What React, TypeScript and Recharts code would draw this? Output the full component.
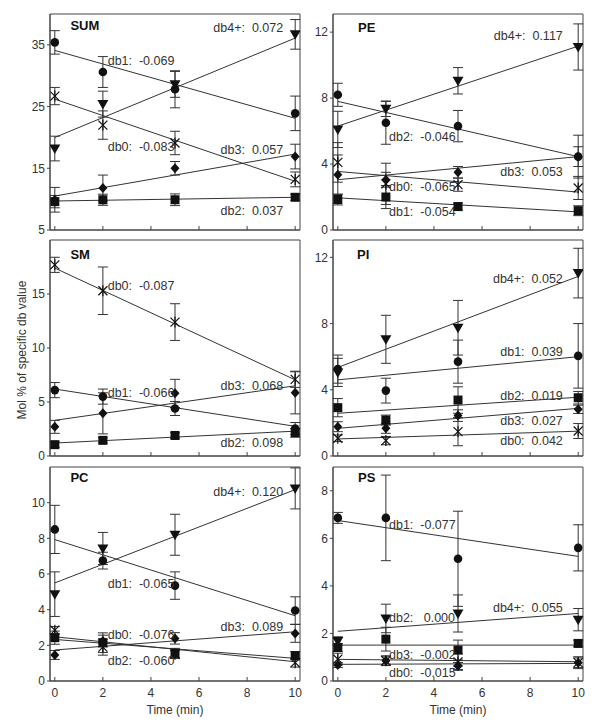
import { ScatterChart, Scatter, XAxis, YAxis, ErrorBar, ReferenceLine, ReferenceArea, ReferenceDot } from 'recharts';

const times = [0, 2, 5, 10];
const xTicks = [0, 2, 4, 6, 8, 10];

// SUM
const sumDb0 = [26.7, 22.0, 19.1, 13.2];
const sumDb0Sd = [1.4, 2.3, 1.9, 1.2];
const sumDb1 = [35.4, 30.6, 27.8, 23.9];
const sumDb1Sd = [1.9, 2.5, 3.0, 2.8];
const sumDb2 = [9.6, 9.9, 9.9, 10.3];
const sumDb2Sd = [1.0, 0.9, 0.95, 0.5];
const sumDb3 = [9.9, 11.8, 15.0, 16.9];
const sumDb3Sd = [2.0, 2.1, 1.1, 2.0];
const sumDb4 = [18.2, 25.4, 28.6, 36.7];
const sumDb4Sd = [2.0, 2.1, 2.1, 2.4];
const sumFits = [[26.2, 12.9], [34.1, 23.1], [9.7, 10.3], [10.5, 17.3], [20.0, 36.1]];
const sumNotes = ['db4+:  0.072', 'db1:  -0.069', 'db0:  -0.083', 'db3:  0.057', 'db2:  0.037'];

// PE
const peDb0 = [4.1, 2.8, 2.75, 2.55];
const peDb0Sd = [1.2, 1.25, 0.4, 0.7];
const peDb1 = [8.2, 6.5, 6.3, 4.45];
const peDb1Sd = [0.7, 1.3, 0.95, 1.3];
const peDb2 = [1.85, 2.0, 1.42, 1.17];
const peDb2Sd = [0.33, 0.7, 0.22, 0.3];
const peDb3 = [3.35, 3.05, 3.5, 4.45];
const peDb3Sd = [1.2, 0.45, 0.35, 0.6];
const peDb4 = [6.1, 7.35, 9.05, 11.1];
const peDb4Sd = [1.1, 0.47, 0.8, 1.4];
const peFits = [[3.55, 2.3], [7.8, 4.45], [1.95, 1.1], [3.05, 4.45], [6.3, 11.15]];
const peNotes = ['db4+:  0.117', 'db2:  -0.046', 'db3:  0.053', 'db0:  -0.065', 'db1:  -0.054'];

// SM
const smDb0 = [17.7, 15.3, 12.4, 7.1];
const smDb0Sd = [0.7, 2.2, 1.7, 0.75];
const smDb1 = [6.1, 5.5, 4.4, 2.55];
const smDb1Sd = [0.7, 0.7, 0.65, 0.55];
const smDb2 = [1.05, 1.45, 1.9, 2.15];
const smDb2Sd = [0.25, 0.25, 0.25, 0.4];
const smDb3 = [2.7, 3.95, 5.8, 5.85];
const smDb3Sd = [0.6, 1.9, 1.3, 1.95];
const smFits = [[17.4, 7.05], [6.2, 2.75], [1.2, 2.3], [3.3, 6.5]];
const smNotes = ['db0:  -0.087', 'db1:  -0.066', 'db3:  0.068', 'db2:  0.098'];

// PI
const piDb0 = [1.07, 0.93, 1.47, 1.51];
const piDb0Sd = [0.2, 0.25, 0.85, 0.45];
const piDb1 = [5.25, 3.95, 5.7, 6.05];
const piDb1Sd = [0.85, 0.75, 1.3, 1.95];
const piDb2 = [2.92, 2.17, 3.38, 3.52];
const piDb2Sd = [0.55, 0.3, 0.8, 0.38];
const piDb3 = [1.77, 1.67, 2.44, 2.82];
const piDb3Sd = [0.3, 0.3, 0.35, 0.25];
const piDb4 = [5.05, 7.05, 7.75, 11.05];
const piDb4Sd = [0.85, 1.45, 1.65, 1.5];
const piFits = [[1.03, 1.5], [4.6, 6.0], [2.58, 3.55], [1.67, 2.88], [5.35, 10.85]];
const piNotes = ['db4+:  0.052', 'db1:  0.039', 'db2:  0.019', 'db3:  0.027', 'db0:  0.042'];

// PC
const pcDb0 = [2.85, 1.9, 1.5, 1.03];
const pcDb0Sd = [0.2, 0.45, 0.2, 0.25];
const pcDb1 = [8.5, 6.75, 5.35, 3.95];
const pcDb1Sd = [1.35, 0.47, 0.77, 0.77];
const pcDb2 = [2.43, 2.15, 1.55, 1.42];
const pcDb2Sd = [0.37, 0.55, 0.28, 0.23];
const pcDb3 = [1.46, 2.24, 2.39, 2.67];
const pcDb3Sd = [0.25, 0.33, 0.32, 0.5];
const pcDb4 = [4.87, 7.43, 8.2, 10.8];
const pcDb4Sd = [1.25, 0.9, 1.15, 1.15];
const pcFits = [[2.48, 1.08], [7.93, 3.66], [2.33, 1.27], [1.74, 2.76], [5.5, 10.73]];
const pcNotes = ['db4+:  0.120', 'db1:  -0.065', 'db3:  0.089', 'db0:  -0.076', 'db2:  -0.060'];

// PS
const psDb0 = [0.92, 0.85, 0.8, 0.77];
const psDb0Sd = [0.25, 0.2, 0.35, 0.25];
const psDb1 = [6.86, 6.86, 5.14, 5.6];
const psDb1Sd = [0.23, 1.8, 2.0, 0.97];
const psDb2 = [1.41, 1.76, 1.3, 1.58];
const psDb2Sd = [0.17, 0.5, 0.42, 0.14];
const psDb3 = [0.67, 0.85, 0.63, 0.77];
const psDb3Sd = [0.1, 0.2, 0.15, 0.2];
const psDb4 = [1.68, 2.63, 2.84, 2.58];
const psDb4Sd = [0.18, 0.6, 0.78, 0.47];
const psFits = [[0.7, 0.74], [6.75, 5.24], [1.51, 1.51], [0.91, 0.81], [2.09, 2.84]];
const psNotes = ['db1:  -0.077', 'db2:   0.000', 'db4+:  0.055', 'db3:  -0.002', 'db0:  -0.015'];

const INK = '#111';
const LINE = '#333';
const FONT = 'Arial, "Liberation Sans", sans-serif';

const mk = (vals: number[], sd: number[]) => times.map((t, i) => ({ x: t, y: vals[i], e: sd[i] }));

const Star = (p: any) => (
  <g stroke={INK} strokeWidth={1.2}>
    <line x1={p.cx - 4.5} y1={p.cy - 4.5} x2={p.cx + 4.5} y2={p.cy + 4.5} />
    <line x1={p.cx - 4.5} y1={p.cy + 4.5} x2={p.cx + 4.5} y2={p.cy - 4.5} />
    <line x1={p.cx} y1={p.cy - 5.5} x2={p.cx} y2={p.cy + 5.5} />
  </g>
);
const Dot = (p: any) => <circle cx={p.cx} cy={p.cy} r={4.3} fill={INK} />;
const Sq = (p: any) => <rect x={p.cx - 4.5} y={p.cy - 4.5} width={9} height={9} fill={INK} />;
const Dia = (p: any) => (
  <polygon points={`${p.cx},${p.cy - 5} ${p.cx + 4.5},${p.cy} ${p.cx},${p.cy + 5} ${p.cx - 4.5},${p.cy}`} fill={INK} />
);
const Tri = (p: any) => (
  <polygon points={`${p.cx - 5.5},${p.cy - 4} ${p.cx + 5.5},${p.cy - 4} ${p.cx},${p.cy + 5.5}`} fill={INK} />
);
const shapes = [Star, Dot, Sq, Dia, Tri];

// label layout: [x, y, anchor] in data units
const panels = [
  {
    title: 'SUM', left: 0, top: 12, width: 302, height: 224, yw: 50, xh: 6, domain: [5, 40], ticks: [5, 15, 25, 35],
    titleAt: [0.65, 38.1], showX: false,
    series: [mk(sumDb0, sumDb0Sd), mk(sumDb1, sumDb1Sd), mk(sumDb2, sumDb2Sd), mk(sumDb3, sumDb3Sd), mk(sumDb4, sumDb4Sd)],
    fits: sumFits, notes: sumNotes,
    noteAt: [[9.5, 37.8, 'end'], [2.2, 32.4, 'start'], [2.2, 18.4, 'start'], [9.5, 17.9, 'end'], [9.5, 8.1, 'end']],
  },
  {
    title: 'PE', left: 303, top: 12, width: 282, height: 224, yw: 30, xh: 6, domain: [0, 13.1], ticks: [0, 4, 8, 12],
    titleAt: [0.84, 12.3], showX: false,
    series: [mk(peDb0, peDb0Sd), mk(peDb1, peDb1Sd), mk(peDb2, peDb2Sd), mk(peDb3, peDb3Sd), mk(peDb4, peDb4Sd)],
    fits: peFits, notes: peNotes,
    noteAt: [[9.36, 11.76, 'end'], [2.13, 5.64, 'start'], [9.36, 3.52, 'end'], [2.13, 2.6, 'start'], [2.13, 1.09, 'start']],
  },
  {
    title: 'SM', left: 0, top: 238, width: 302, height: 224, yw: 50, xh: 6, domain: [0, 20], ticks: [0, 5, 10, 15],
    titleAt: [0.65, 18.7], showX: false,
    series: [mk(smDb0, smDb0Sd), mk(smDb1, smDb1Sd), mk(smDb2, smDb2Sd), mk(smDb3, smDb3Sd)],
    fits: smFits, notes: smNotes,
    noteAt: [[2.2, 15.7, 'start'], [2.2, 5.8, 'start'], [9.5, 6.45, 'end'], [9.5, 1.18, 'end']],
  },
  {
    title: 'PI', left: 303, top: 238, width: 282, height: 224, yw: 30, xh: 6, domain: [0, 13.05], ticks: [0, 4, 8, 12],
    titleAt: [0.8, 12.2], showX: false,
    series: [mk(piDb0, piDb0Sd), mk(piDb1, piDb1Sd), mk(piDb2, piDb2Sd), mk(piDb3, piDb3Sd), mk(piDb4, piDb4Sd)],
    fits: piFits, notes: piNotes,
    noteAt: [[9.36, 10.7, 'end'], [9.36, 6.28, 'end'], [9.36, 3.63, 'end'], [9.36, 2.11, 'end'], [9.36, 0.91, 'end']],
  },
  {
    title: 'PC', left: 0, top: 465, width: 302, height: 256, yw: 50, xh: 40, domain: [0, 12], ticks: [0, 2, 4, 6, 8, 10],
    titleAt: [0.65, 11.4], showX: true,
    series: [mk(pcDb0, pcDb0Sd), mk(pcDb1, pcDb1Sd), mk(pcDb2, pcDb2Sd), mk(pcDb3, pcDb3Sd), mk(pcDb4, pcDb4Sd)],
    fits: pcFits, notes: pcNotes,
    noteAt: [[9.5, 10.6, 'end'], [2.2, 5.42, 'start'], [9.5, 3.02, 'end'], [2.2, 2.57, 'start'], [2.2, 1.12, 'start']],
  },
  {
    title: 'PS', left: 303, top: 465, width: 282, height: 256, yw: 30, xh: 40, domain: [0, 9], ticks: [0, 2, 4, 6, 8],
    titleAt: [0.84, 8.54], showX: true,
    series: [mk(psDb0, psDb0Sd), mk(psDb1, psDb1Sd), mk(psDb2, psDb2Sd), mk(psDb3, psDb3Sd), mk(psDb4, psDb4Sd)],
    fits: psFits, notes: psNotes,
    noteAt: [[2.13, 6.57, 'start'], [2.13, 2.64, 'start'], [9.36, 3.05, 'end'], [2.13, 1.09, 'start'], [2.13, 0.33, 'start']],
  },
];

const textShape = (text: string, anchor: string, bold = false) => (p: any) => (
  <text
    x={p.cx}
    y={p.cy}
    textAnchor={anchor}
    dominantBaseline="central"
    fontFamily={FONT}
    fontSize={bold ? 13 : 12.5}
    fontWeight={bold ? 700 : 400}
    fill={bold ? INK : '#333'}
    style={{ whiteSpace: 'pre' }}
  >
    {text}
  </text>
);

function Panel({ p }: { p: any }) {
  const tickStyle = { fontSize: 12, fontFamily: FONT, fill: '#333' };
  return (
    <div style={{ position: 'absolute', left: p.left, top: p.top }}>
      <ScatterChart width={p.width} height={p.height} margin={{ top: 2, right: 2, left: 0, bottom: 0 }}>
        <XAxis
          type="number"
          dataKey="x"
          domain={[-0.2, 10.2]}
          ticks={xTicks}
          interval={0}
          allowDataOverflow
          height={p.xh}
          stroke="#444"
          tickSize={-4}
          tickMargin={11}
          tick={tickStyle}
          tickFormatter={p.showX ? undefined : () => ''}
          label={p.showX ? { value: 'Time (min)', position: 'insideBottom', offset: 7, style: { ...tickStyle, textAnchor: 'middle' } } : undefined}
        />
        <YAxis
          type="number"
          dataKey="y"
          domain={p.domain}
          ticks={p.ticks}
          interval={0}
          allowDataOverflow
          width={p.yw}
          stroke="#444"
          tickSize={3}
          tickMargin={2}
          tick={tickStyle}
        />
        <ReferenceArea x1={-0.2} x2={10.2} y1={p.domain[0]} y2={p.domain[1]} fill="none" stroke="#444" strokeWidth={1} ifOverflow="visible" />
        {p.fits.map((f: number[], i: number) => (
          <ReferenceLine key={'f' + i} segment={[{ x: 0, y: f[0] }, { x: 10, y: f[1] }]} stroke={LINE} strokeWidth={1} />
        ))}
        {p.series.map((d: any[], i: number) => (
          <Scatter key={'s' + i} data={d} dataKey="y" shape={shapes[i]} isAnimationActive={false}>
            <ErrorBar dataKey="e" direction="y" width={5} stroke={LINE} strokeWidth={1} isAnimationActive={false} />
          </Scatter>
        ))}
        {p.notes.map((t: string, i: number) => (
          <ReferenceDot key={'n' + i} x={p.noteAt[i][0]} y={p.noteAt[i][1]} r={0} ifOverflow="visible" shape={textShape(t, p.noteAt[i][2])} />
        ))}
        <ReferenceDot x={p.titleAt[0]} y={p.titleAt[1]} r={0} ifOverflow="visible" shape={textShape(p.title, 'start', true)} />
      </ScatterChart>
    </div>
  );
}

export default function App() {
  return (
    <div style={{ position: 'absolute', left: 0, top: 0, width: 601, height: 727, background: '#fff' }}>
      {panels.map((p) => (
        <Panel key={p.title} p={p} />
      ))}
      <div
        style={{
          position: 'absolute',
          left: 22 - 100,
          top: 350 - 8,
          width: 200,
          height: 16,
          lineHeight: '16px',
          textAlign: 'center',
          fontFamily: FONT,
          fontSize: 12,
          color: '#333',
          transform: 'rotate(-90deg)',
        }}
      >
        Mol % of specific db value
      </div>
    </div>
  );
}
